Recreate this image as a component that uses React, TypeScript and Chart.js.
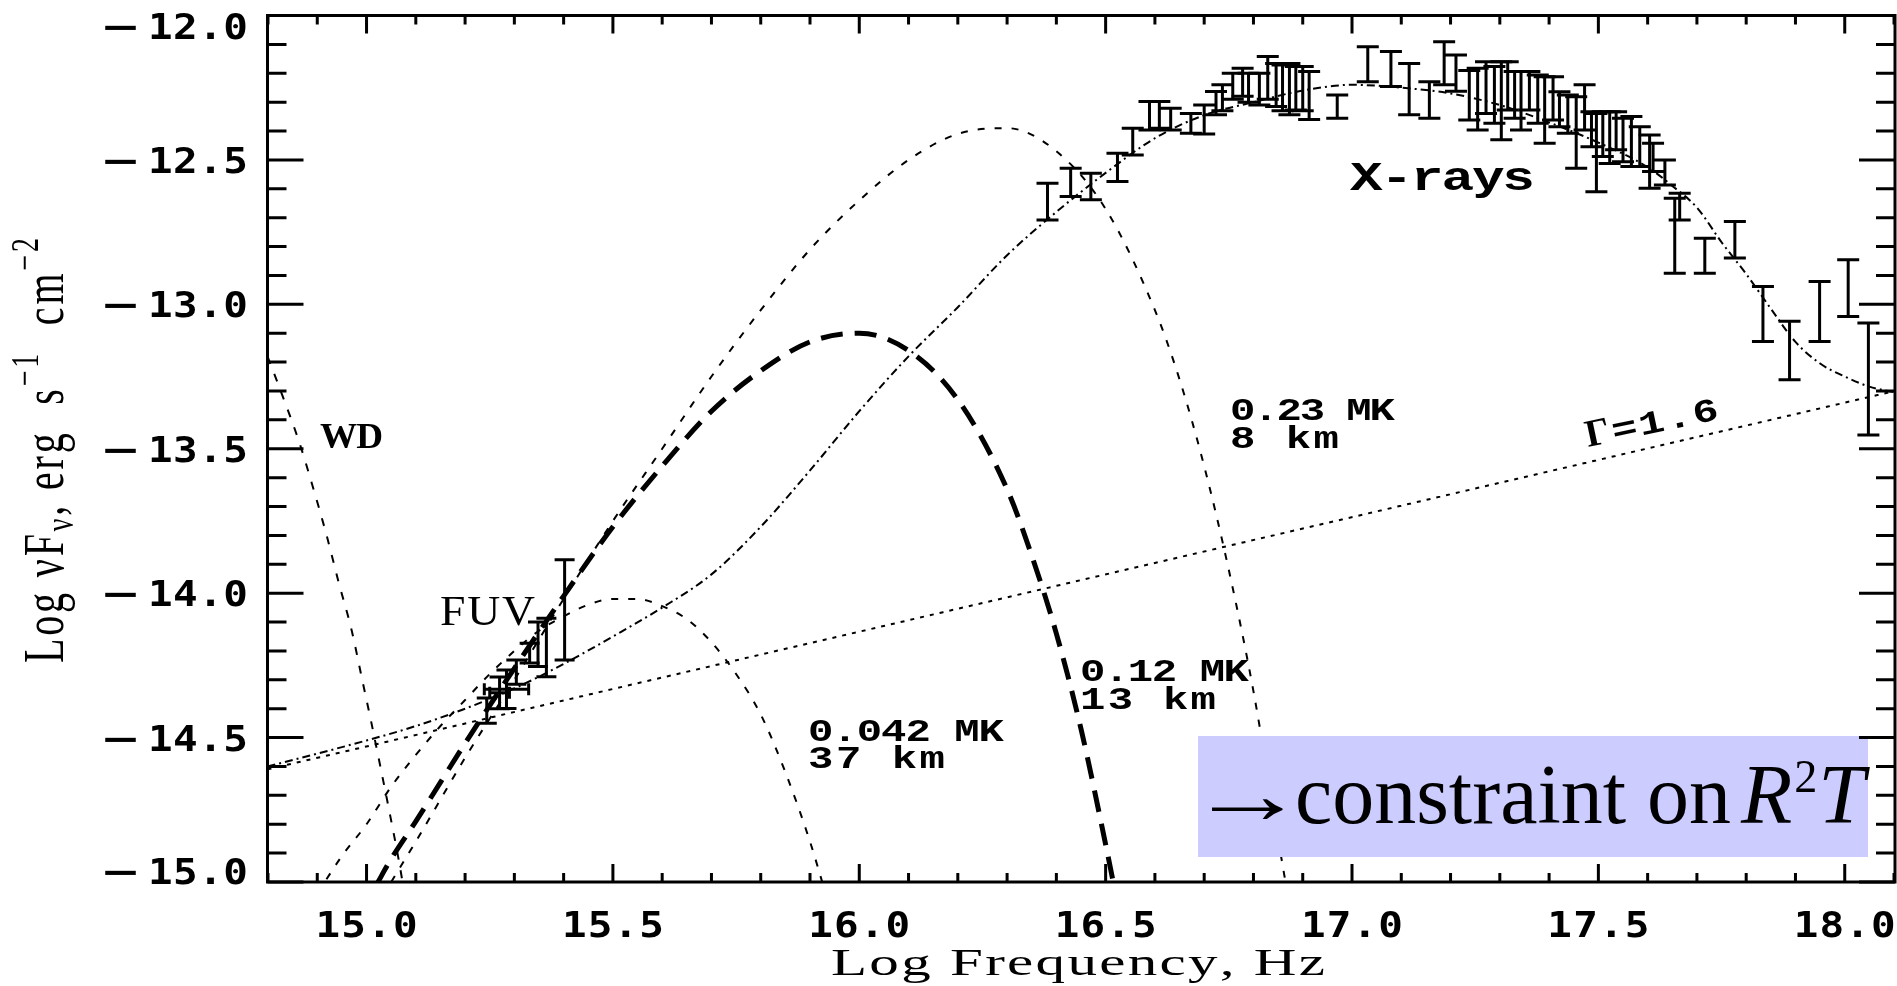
import React, { useEffect, useRef } from "react";
import { Chart, registerables } from "chart.js";

Chart.register(...registerables);

// ---------- axes ----------
const X_MIN = 14.799;
const X_MAX = 18.102;
const Y_MIN = -15;
const Y_MAX = -12;

const xMajorTicks = [15.0, 15.5, 16.0, 16.5, 17.0, 17.5, 18.0];
const xTickLabels = ["15.0", "15.5", "16.0", "16.5", "17.0", "17.5", "18.0"];
const yMajorTicks = [-12.0, -12.5, -13.0, -13.5, -14.0, -14.5, -15.0];
const yTickLabels = ["12.0", "12.5", "13.0", "13.5", "14.0", "14.5", "15.0"];

const xMinorTicks: number[] = [];
for (let i = 148; i <= 181; i++) if (i % 5 !== 0) xMinorTicks.push(i / 10);
const yMinorTicks: number[] = [];
for (let i = 120; i <= 150; i++) if (i % 5 !== 0) yMinorTicks.push(-i / 10);

// ---------- model curves (log nu, log nuFnu) ----------
const wdCurve = [
  [14.799, -13.18], [14.828, -13.31], [14.862, -13.47], [14.889, -13.62], [14.919, -13.80],
  [14.943, -13.96], [14.97, -14.13], [14.99, -14.29], [15.01, -14.45], [15.028, -14.60],
  [15.048, -14.77], [15.066, -14.93], [15.075, -15.02],
];

const powerLaw = [
  [14.799, -14.61], [15.065, -14.505], [15.444, -14.354], [16.379, -13.983], [17.509, -13.535], [18.102, -13.30],
];

const bb042 = [
  [14.90, -15.04], [14.95, -14.91], [15.00, -14.80], [15.05, -14.67], [15.10, -14.56], [15.15, -14.46],
  [15.20, -14.37], [15.25, -14.28], [15.30, -14.20], [15.35, -14.13], [15.40, -14.08], [15.45, -14.04],
  [15.50, -14.02], [15.55, -14.02], [15.60, -14.045], [15.65, -14.09], [15.70, -14.17], [15.75, -14.28],
  [15.80, -14.42], [15.85, -14.62], [15.90, -14.86], [15.93, -15.03],
];

const bb012 = [
  [15.02, -15.01], [15.05, -14.92], [15.10, -14.79], [15.20, -14.52], [15.30, -14.26], [15.40, -14.01],
  [15.50, -13.77], [15.60, -13.56], [15.70, -13.37], [15.80, -13.23], [15.90, -13.13], [16.00, -13.10],
  [16.10, -13.16], [16.20, -13.33], [16.30, -13.64], [16.35, -13.87], [16.40, -14.14], [16.45, -14.47],
  [16.50, -14.87], [16.52, -15.04],
];

const bb023 = [
  [15.05, -15.0], [15.10, -14.86], [15.20, -14.57], [15.30, -14.30], [15.40, -14.02], [15.50, -13.75],
  [15.60, -13.50], [15.70, -13.25], [15.80, -13.02], [15.90, -12.81], [16.00, -12.64], [16.10, -12.50],
  [16.20, -12.41], [16.30, -12.39], [16.40, -12.47], [16.50, -12.67], [16.60, -13.02], [16.65, -13.26],
  [16.70, -13.56], [16.75, -13.92], [16.80, -14.34], [16.85, -14.85], [16.87, -15.05],
];

const xrayModel = [
  [14.799, -14.60], [15.0, -14.51], [15.1, -14.46], [15.2, -14.40], [15.3, -14.33], [15.4, -14.245],
  [15.5, -14.15], [15.6, -14.05], [15.7, -13.935], [15.8, -13.77], [15.9, -13.575], [16.0, -13.37],
  [16.1, -13.18], [16.2, -13.01], [16.3, -12.83], [16.4, -12.68], [16.5, -12.545], [16.6, -12.425],
  [16.7, -12.345], [16.8, -12.30], [16.9, -12.26], [17.0, -12.24], [17.1, -12.25], [17.2, -12.27],
  [17.3, -12.31], [17.4, -12.37], [17.5, -12.44], [17.6, -12.525], [17.65, -12.59], [17.7, -12.665],
  [17.75, -12.785], [17.8, -12.895], [17.85, -13.015], [17.9, -13.13], [17.95, -13.205], [18.0, -13.25],
  [18.05, -13.285], [18.102, -13.305],
];

// ---------- X-ray data (error bars: x, upper, lower) ----------
const xrayX = [
  16.382, 16.429, 16.470, 16.524, 16.555, 16.589, 16.609, 16.632, 16.673, 16.700, 16.724, 16.737,
  16.758, 16.778, 16.790, 16.812, 16.829, 16.846, 16.859, 16.873, 16.886, 16.900, 16.913, 16.970,
  17.032, 17.079, 17.116, 17.157, 17.187, 17.211, 17.238, 17.255, 17.272, 17.289, 17.303, 17.316,
  17.330, 17.343, 17.360, 17.377, 17.391, 17.408, 17.421, 17.438, 17.455, 17.472, 17.486, 17.496,
  17.509, 17.523, 17.536, 17.550, 17.567, 17.584, 17.604, 17.611, 17.635, 17.655, 17.665, 17.716,
  17.777, 17.834, 17.888, 17.949, 18.007, 18.048,
];
const xrayHi = [
  -12.581, -12.529, -12.546, -12.477, -12.390, -12.298, -12.298, -12.321, -12.339, -12.310, -12.263, -12.240,
  -12.200, -12.183, -12.200, -12.200, -12.142, -12.166, -12.171, -12.166, -12.177, -12.177, -12.194, -12.275,
  -12.108, -12.125, -12.166, -12.229, -12.091, -12.137, -12.190, -12.183, -12.160, -12.177, -12.160, -12.160,
  -12.194, -12.194, -12.194, -12.206, -12.212, -12.212, -12.264, -12.275, -12.281, -12.240, -12.333, -12.339,
  -12.333, -12.333, -12.333, -12.356, -12.350, -12.385, -12.414, -12.442, -12.500, -12.633, -12.615, -12.771,
  -12.713, -12.938, -13.059, -12.921, -12.846, -13.065,
];
const xrayLo = [
  -12.708, -12.627, -12.638, -12.575, -12.483, -12.396, -12.390, -12.396, -12.408, -12.410, -12.344, -12.330,
  -12.290, -12.280, -12.300, -12.310, -12.290, -12.315, -12.330, -12.344, -12.327, -12.330, -12.360, -12.356,
  -12.229, -12.246, -12.344, -12.356, -12.240, -12.262, -12.362, -12.396, -12.339, -12.373, -12.430, -12.327,
  -12.356, -12.396, -12.327, -12.373, -12.442, -12.362, -12.385, -12.408, -12.529, -12.396, -12.454, -12.610,
  -12.488, -12.512, -12.465, -12.506, -12.523, -12.523, -12.598, -12.540, -12.587, -12.892, -12.708, -12.892,
  -12.840, -13.129, -13.261, -13.129, -13.042, -13.452,
];

// ---------- FUV data ----------
const fuvX = [15.402, 15.365, 15.348, 15.331, 15.304, 15.284, 15.27, 15.244];
const fuvHi = [-13.884, -14.087, -14.10, -14.173, -14.231, -14.266, -14.29, -14.363];
const fuvLo = [-14.231, -14.289, -14.254, -14.242, -14.315, -14.399, -14.40, -14.45];
const fuvXErr = [0, 0, 0, 0, 0, 0.045, 0.02, 0];

// ---------- text helpers ----------
const MONO = "'Liberation Mono'";
const TICKF = "'DejaVu Sans Mono'";
const SERIF = "'Liberation Serif'";

function capSize(ctx: CanvasRenderingContext2D, family: string, weight: string, cap: number, style = "normal") {
  ctx.font = `${style} ${weight} 100px ${family}`;
  const m = ctx.measureText("H");
  const r = m.actualBoundingBoxAscent > 0 ? m.actualBoundingBoxAscent / 100 : 0.7;
  return cap / r;
}

function setFont(ctx: CanvasRenderingContext2D, family: string, weight: string, cap: number, style = "normal") {
  const s = capSize(ctx, family, weight, cap, style);
  ctx.font = `${style} ${weight} ${s.toFixed(2)}px ${family}`;
  return s;
}

function spreadText(ctx: CanvasRenderingContext2D, text: string, x: number, base: number, width: number, sx: number) {
  const chars = Array.from(text);
  const ws = chars.map((c) => ctx.measureText(c).width * sx);
  const nat = ws.reduce((a, b) => a + b, 0);
  const extra = chars.length > 1 ? (width - nat) / (chars.length - 1) : 0;
  let cx = x;
  chars.forEach((c, i) => {
    ctx.save();
    ctx.translate(cx, base);
    ctx.scale(sx, 1);
    ctx.fillText(c, 0, 0);
    ctx.restore();
    cx += ws[i] + extra;
  });
}

const overlay = {
  id: "overlay",
  afterDatasetsDraw(chart: any) {
    const { ctx, chartArea: ca } = chart;
    const xs = chart.scales.x;
    const ys = chart.scales.y;
    ctx.save();
    ctx.setLineDash([]);
    ctx.lineCap = "butt";
    ctx.strokeStyle = "#000";
    ctx.fillStyle = "#000";
    ctx.textBaseline = "alphabetic";
    ctx.textAlign = "left";

    const bar = (xv: number, hi: number, lo: number, cap: number, lw: number) => {
      const px = xs.getPixelForValue(xv);
      const p1 = ys.getPixelForValue(hi);
      const p2 = ys.getPixelForValue(lo);
      ctx.lineWidth = lw;
      ctx.beginPath();
      ctx.moveTo(px, p1); ctx.lineTo(px, p2);
      ctx.moveTo(px - cap / 2, p1); ctx.lineTo(px + cap / 2, p1);
      ctx.moveTo(px - cap / 2, p2); ctx.lineTo(px + cap / 2, p2);
      ctx.stroke();
    };
    xrayX.forEach((xv, i) => bar(xv, xrayHi[i], xrayLo[i], 22, 3));
    fuvX.forEach((xv, i) => {
      bar(xv, fuvHi[i], fuvLo[i], 20, 3);
      if (fuvXErr[i] > 0) {
        const yc = ys.getPixelForValue((fuvHi[i] + fuvLo[i]) / 2);
        const a = xs.getPixelForValue(xv - fuvXErr[i]);
        const b = xs.getPixelForValue(xv + fuvXErr[i]);
        ctx.lineWidth = 3;
        ctx.beginPath();
        ctx.moveTo(a, yc); ctx.lineTo(b, yc);
        ctx.moveTo(a, yc - 6); ctx.lineTo(a, yc + 6);
        ctx.moveTo(b, yc - 6); ctx.lineTo(b, yc + 6);
        ctx.stroke();
      }
    });

    // annotations
    const notes = [
      { t: "WD", x: 320, b: 448, cap: 23, w: 63, fam: SERIF, wt: "bold", sx: 1.05 },
      { t: "FUV", x: 440, b: 625, cap: 27, w: 95, fam: SERIF, wt: "normal", sx: 1.1 },
      { t: "0.042 MK", x: 808, b: 741, cap: 21, w: 196, fam: MONO, wt: "bold", sx: 1.35 },
      { t: "37 km", x: 808, b: 768, cap: 21, w: 137, fam: MONO, wt: "bold", sx: 1.35 },
      { t: "0.12 MK", x: 1080, b: 681, cap: 21, w: 169, fam: MONO, wt: "bold", sx: 1.35 },
      { t: "13 km", x: 1080, b: 709, cap: 21, w: 136, fam: MONO, wt: "bold", sx: 1.35 },
      { t: "0.23 MK", x: 1230, b: 420, cap: 21, w: 165, fam: MONO, wt: "bold", sx: 1.35 },
      { t: "8 km", x: 1230, b: 448, cap: 21, w: 109, fam: MONO, wt: "bold", sx: 1.35 },
      { t: "X-rays", x: 1350, b: 190, cap: 27, w: 185, fam: MONO, wt: "bold", sx: 1.35 },
    ];
    notes.forEach((n) => {
      setFont(ctx, n.fam, n.wt, n.cap);
      spreadText(ctx, n.t, n.x, n.b, n.w, n.sx);
    });
    // Gamma label along the power law
    ctx.save();
    ctx.translate(1588, 447);
    ctx.rotate((-12 * Math.PI) / 180);
    setFont(ctx, SERIF, "bold", 25);
    ctx.fillText("Γ", 0, 0);
    const gw = ctx.measureText("Γ").width;
    setFont(ctx, MONO, "bold", 22);
    spreadText(ctx, "=1.6", gw + 2, 0, 135 - gw - 2, 1.3);
    ctx.restore();

    // highlight box
    ctx.fillStyle = "#CCCCFF";
    ctx.fillRect(1198, 736, 670, 121);
    ctx.fillStyle = "#000";
    ctx.font = `normal normal 100px ${SERIF}`;
    const cw = ctx.measureText("constraint").width;
    const fs = (100 * 331) / cw;
    ctx.font = `normal normal ${fs.toFixed(2)}px ${SERIF}`;
    const am = ctx.measureText("→");
    const aw = am.actualBoundingBoxLeft + am.actualBoundingBoxRight || fs * 0.6;
    ctx.save();
    ctx.translate(1212, 823);
    ctx.scale(71 / aw, 1);
    ctx.fillText("→", am.actualBoundingBoxLeft, 0);
    ctx.restore();
    let bx = 1295;
    ctx.fillText("constraint on", bx, 823);
    bx += ctx.measureText("constraint on").width + fs * 0.12;
    ctx.font = `italic normal ${fs.toFixed(2)}px ${SERIF}`;
    ctx.fillText("R", bx, 823);
    bx += ctx.measureText("R").width + 2;
    ctx.font = `normal normal ${(fs * 0.55).toFixed(2)}px ${SERIF}`;
    ctx.fillText("2", bx, 792);
    bx += ctx.measureText("2").width + 1;
    ctx.font = `italic normal ${fs.toFixed(2)}px ${SERIF}`;
    ctx.fillText("T", bx, 823);

    // frame
    ctx.lineWidth = 3;
    ctx.strokeRect(ca.left, ca.top, ca.right - ca.left, ca.bottom - ca.top);
    ctx.beginPath();
    const xt = (v: number, len: number) => {
      const px = xs.getPixelForValue(v);
      ctx.moveTo(px, ca.bottom); ctx.lineTo(px, ca.bottom - len);
      ctx.moveTo(px, ca.top); ctx.lineTo(px, ca.top + len);
    };
    const yt = (v: number, len: number) => {
      const py = ys.getPixelForValue(v);
      ctx.moveTo(ca.left, py); ctx.lineTo(ca.left + len, py);
      ctx.moveTo(ca.right, py); ctx.lineTo(ca.right - len, py);
    };
    xMajorTicks.forEach((v) => xt(v, 18));
    xMinorTicks.forEach((v) => xt(v, 9));
    yMajorTicks.forEach((v) => yt(v, 36));
    yMinorTicks.forEach((v) => yt(v, 19));
    ctx.stroke();

    // tick labels
    setFont(ctx, TICKF, "bold", 26);
    xMajorTicks.forEach((v, i) => {
      const px = xs.getPixelForValue(v);
      spreadText(ctx, xTickLabels[i], px - 51, 937, 102, 1.15);
    });
    yMajorTicks.forEach((v, i) => {
      const py = Math.min(Math.max(ys.getPixelForValue(v), 26), 871);
      spreadText(ctx, yTickLabels[i], 148, py + 13, 100, 1.15);
      const m = ctx.measureText("−");
      const inkW = m.actualBoundingBoxLeft + m.actualBoundingBoxRight || 18;
      ctx.save();
      ctx.translate(105, py + 13);
      ctx.scale(32 / inkW, 1);
      ctx.fillText("−", m.actualBoundingBoxLeft, 0);
      ctx.restore();
    });

    // x title
    setFont(ctx, SERIF, "normal", 24);
    spreadText(ctx, "Log Frequency, Hz", 831, 975, 494, 1.6);

    // y title (rotated)
    const mainS = capSize(ctx, SERIF, "normal", 26);
    const segs = [
      { t: "Log ", k: 1, dy: 0 },
      { t: "νF", k: 1, dy: 0 },
      { t: "ν", k: 0.7, dy: 7 },
      { t: ", erg  s", k: 1, dy: 0 },
      { t: "−1", k: 0.7, dy: -17 },
      { t: "  cm", k: 1, dy: 0 },
      { t: "−2", k: 0.7, dy: -17 },
    ];
    const chars: { c: string; f: string; dy: number; w: number }[] = [];
    segs.forEach((s) => {
      const f = `normal normal ${(mainS * s.k).toFixed(2)}px ${SERIF}`;
      ctx.font = f;
      Array.from(s.t).forEach((c) => chars.push({ c, f, dy: s.dy, w: ctx.measureText(c).width }));
    });
    const nat = chars.reduce((a, c) => a + c.w, 0);
    const extra = (425 - nat) / (chars.length - 1);
    ctx.save();
    ctx.translate(63, 663);
    ctx.scale(1.45, 1);
    ctx.rotate(-Math.PI / 2);
    let cx = 0;
    chars.forEach((c) => {
      ctx.font = c.f;
      ctx.fillText(c.c, cx, c.dy);
      cx += c.w + extra;
    });
    ctx.restore();

    ctx.restore();
  },
};

export default function App() {
  const ref = useRef<HTMLCanvasElement | null>(null);
  useEffect(() => {
    const canvas = ref.current;
    if (!canvas) return;
    const toPts = (a: number[][]) => a.map(([x, y]) => ({ x, y }));
    const line = (data: number[][], width: number, dash: number[]) => ({
      data: toPts(data),
      showLine: true,
      borderColor: "#000",
      backgroundColor: "#000",
      borderWidth: width,
      borderDash: dash,
      pointRadius: 0,
      fill: false,
      cubicInterpolationMode: "monotone" as const,
    });
    const chart = new Chart(canvas, {
      type: "scatter",
      data: {
        datasets: [
          line(wdCurve, 2, [8, 11]),
          line(powerLaw, 2, [4, 6]),
          line(xrayModel, 2, [8, 4, 2, 4]),
          line(bb023, 2, [7, 10]),
          line(bb042, 2, [7, 10]),
          line(bb012, 5, [22, 12]),
        ],
      } as any,
      options: {
        animation: false,
        responsive: false,
        maintainAspectRatio: false,
        events: [],
        layout: { padding: { left: 267.5, top: 15.5, right: 2, bottom: 104 } },
        scales: {
          x: { type: "linear", min: X_MIN, max: X_MAX, display: false },
          y: { type: "linear", min: Y_MIN, max: Y_MAX, display: false },
        },
        plugins: { legend: { display: false }, tooltip: { enabled: false } },
      } as any,
      plugins: [overlay],
    });
    return () => chart.destroy();
  }, []);
  return (
    <div style={{ position: "fixed", left: 0, top: 0, width: 1897, height: 986, background: "#fff" }}>
      <canvas ref={ref} width={1897} height={986} style={{ display: "block", width: 1897, height: 986 }} />
    </div>
  );
}
